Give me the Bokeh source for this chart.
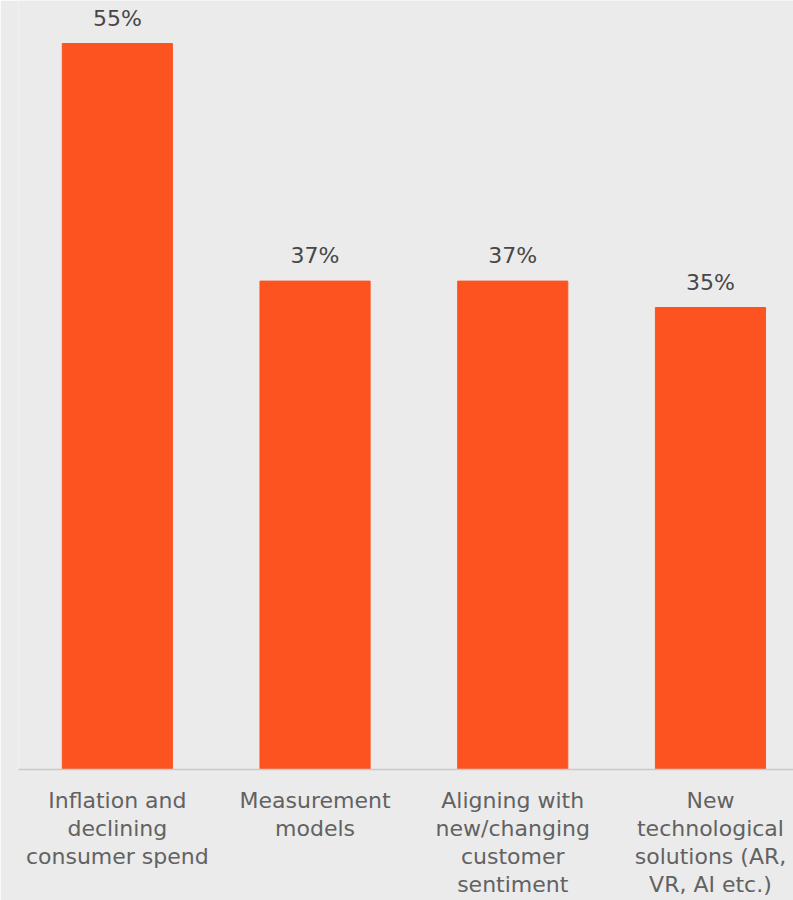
from bokeh.plotting import figure
from bokeh.models import ColumnDataSource, FixedTicker, Range1d
from bokeh.embed import file_html
from bokeh.resources import INLINE
from bokeh.core.properties import value

categories = [
    "Inflation and\ndeclining\nconsumer spend",
    "Measurement\nmodels",
    "Aligning with\nnew/changing\ncustomer\nsentiment",
    "New\ntechnological\nsolutions (AR,\nVR, AI etc.)",
]
values = [55, 37, 37, 35]
value_labels = ["55%", "37%", "37%", "35%"]

xs = list(range(len(categories)))
src = ColumnDataSource(dict(x=xs, top=values, lab=value_labels))

BG = "#ebebeb"
FONT = "DejaVu Sans"

p = figure(width=793, height=900, output_backend="svg", toolbar_location=None,
           x_range=Range1d(-0.5, 3.42), y_range=Range1d(0, 58.26),
           min_border_left=18, min_border_right=0, min_border_top=0, min_border_bottom=131)
p.background_fill_color = BG
p.border_fill_color = BG
p.outline_line_color = None
p.grid.visible = False
p.yaxis.visible = False

p.vbar(x="x", top="top", width=0.557, bottom=0, source=src, color="#fd5320")
p.text(x="x", y="top", text="lab", source=src, y_offset=-13, text_align="center",
       text_baseline="bottom", text_font=value(FONT), text_font_size="22px", text_color="#474747")

ax = p.xaxis[0]
ax.ticker = FixedTicker(ticks=xs)
ax.major_label_overrides = {i: c for i, c in enumerate(categories)}
ax.major_tick_line_color = None
ax.minor_tick_line_color = None
ax.axis_line_color = "#c9c9c9"
ax.axis_line_width = 1.5
ax.major_label_standoff = 12
ax.major_label_text_font = FONT
ax.major_label_text_font_size = "22px"
ax.major_label_text_color = "#626262"
ax.major_label_text_line_height = 1.13

open("out.html", "w").write(file_html(p, INLINE))
